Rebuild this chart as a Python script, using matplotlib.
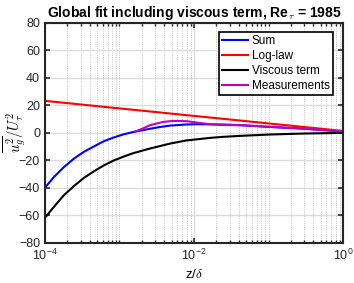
import numpy as np
import matplotlib
matplotlib.use("Agg")
import matplotlib.pyplot as plt
from matplotlib.ticker import LogLocator, NullFormatter, FixedLocator

plt.rcParams['font.family'] = ['Liberation Sans', 'DejaVu Sans']
plt.rcParams['mathtext.fontset'] = 'cm'

# values (log10 of z/delta, value)
sum_logz = [-4.0, -3.88, -3.745, -3.61, -3.48, -3.34, -3.21, -3.08, -2.94, -2.81, -2.69,
            -2.59, -2.45, -2.32, -2.1, -1.96, -1.61, -1.38, -0.98, -0.54, 0.0]
sum_val = [-40.0, -32.3, -25.0, -18.8, -14.0, -9.9, -6.2, -3.5, -1.1, 0.6, 1.8,
           2.9, 4.2, 5.2, 6.0, 6.2, 6.0, 5.5, 4.2, 3.0, 0.8]

log_logz = [-4.0, 0.0]
log_val = [23.2, 1.3]

visc_logz = [-4.0, -3.88, -3.745, -3.61, -3.48, -3.34, -3.21, -3.08, -2.94, -2.81, -2.69,
             -2.59, -2.32, -2.1, -1.96, -1.79, -1.61, -1.38, -0.98, -0.54, 0.0]
visc_val = [-62.0, -54.0, -45.5, -38.8, -33.0, -28.0, -23.8, -20.3, -17.3, -14.8, -13.0,
            -11.5, -7.9, -5.6, -4.8, -3.8, -3.0, -2.3, -1.3, -0.6, -0.1]

meas_logz = [-2.79, -2.69, -2.59, -2.41, -2.28, -2.1, -1.96, -1.79, -1.61, -1.38, -0.98, -0.54, 0.0]
meas_val = [0.8, 3.0, 5.5, 7.9, 8.6, 8.4, 7.4, 6.2, 5.6, 5.5, 4.3, 3.0, 1.0]

fig = plt.figure(figsize=(3.54, 2.83), dpi=100)
ax = fig.add_axes([0.127, 0.143, 0.842, 0.776])

ax.plot(10**np.array(sum_logz), sum_val, color='b', lw=1.5, label='Sum')
ax.plot(10**np.array(log_logz), log_val, color='r', lw=1.5, label='Log-law')
ax.plot(10**np.array(visc_logz), visc_val, color='k', lw=1.5, label='Viscous term')
ax.plot(10**np.array(meas_logz), meas_val, color='m', lw=1.5, label='Measurements')

ax.set_xscale('log')
ax.set_xlim(1e-4, 1)
ax.set_ylim(-80, 80)
ax.xaxis.set_major_locator(FixedLocator([1e-4, 1e-2, 1]))
ax.xaxis.set_minor_locator(LogLocator(base=10, subs=np.arange(1, 10), numticks=20))
ax.xaxis.set_minor_formatter(NullFormatter())
ax.set_yticks(np.arange(-80, 81, 20))

ax.grid(True, which='major', color='#dcdcdc', lw=1.0, ls='-')
ax.grid(True, which='minor', axis='x', color='#b0b0b0', lw=0.6, ls=':')
ax.set_axisbelow(True)

ax.tick_params(which='both', direction='in', top=True, right=True, labelsize=9, colors='#262626')
ax.tick_params(which='major', length=3.5, width=1.2)
ax.tick_params(which='minor', length=2, width=1.0)
for s in ax.spines.values():
    s.set_linewidth(1.5)
    s.set_color('#262626')

ax.set_title(r'Global fit including viscous term, Re$_\tau$ = 1985', fontsize=10, fontweight='bold', pad=4)
ax.set_xlabel(r'z/$\delta$', fontsize=9.5, labelpad=4)
ax.set_ylabel(r'$\overline{u_g^2}/U_\tau^2$', fontsize=10.5)
ax.yaxis.set_label_coords(-0.055, 0.5)

leg = ax.legend(loc='upper right', fontsize=8.5, frameon=True, fancybox=False, edgecolor='k',
                handlelength=2.2, borderpad=0.25, labelspacing=0.25, handletextpad=0.3,
                bbox_to_anchor=(0.985, 0.985))
leg.get_frame().set_linewidth(1.2)
leg.get_frame().set_alpha(1)

fig.savefig('out.png', dpi=100)
